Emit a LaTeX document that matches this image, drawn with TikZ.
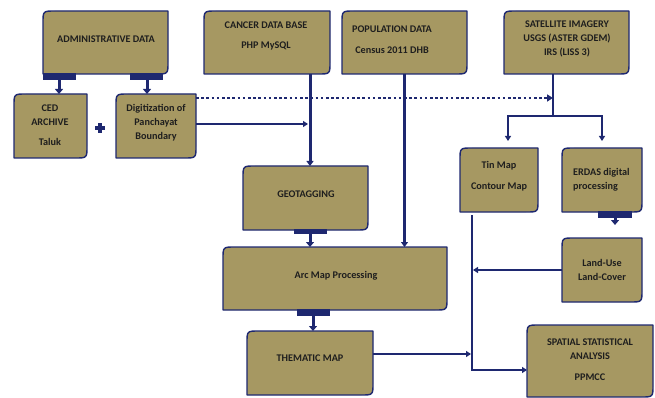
\documentclass[tikz,border=0pt]{standalone}
\usepackage{fontspec}
\setmainfont{Carlito}
\usetikzlibrary{arrows.meta,calc}
\definecolor{olive}{RGB}{166,152,98}
\definecolor{navy}{RGB}{30,40,112}
\definecolor{ink}{RGB}{30,30,30}
\def\rr{12pt}
\newcommand\oboxpath[1]{\filldraw[boxline] ([yshift=-\rr]#1.north west) .. controls (#1.north west) .. ([xshift=\rr]#1.north west) -- (#1.north east) -- ([yshift=\rr]#1.south east) .. controls (#1.south east) .. ([xshift=-\rr]#1.south east) -- (#1.south west) -- cycle;}
\tikzset{
  bx/.style 2 args={minimum width=#1pt, minimum height=#2pt, inner sep=0pt, outer sep=0pt, draw=none},
  boxline/.style={fill=olive, draw=navy, line width=1.4pt, line join=round},
  txt/.style={font=\bfseries\fontsize{10.2}{14}\selectfont, text=ink, align=center, inner sep=0pt},
  conn/.style={draw=navy, line width=2pt, -{Triangle[width=6pt,length=5pt]}},
  thickconn/.style={draw=navy, line width=3pt, -{Triangle[width=7pt,length=5pt]}},
  plainline/.style={draw=navy, line width=2pt},
  tab/.style={fill=navy},
  tabarrow/.style={draw=navy, line width=3pt, -{Triangle[width=8pt,length=5pt]}},
}
\begin{document}
\begin{tikzpicture}[x=1pt,y=-1pt]
\useasboundingbox (0,0) rectangle (655,398);
% boxes
\node[bx={125}{63}] (adm) at (105.5,42.5) {};
\node[bx={73}{64}] (ced) at (50.5,126) {};
\node[bx={80}{64}] (dig) at (156,126) {};
\node[bx={126}{63}] (cdb) at (267,42.5) {};
\node[bx={125}{63}] (pop) at (404.5,42.5) {};
\node[bx={125}{63}] (sat) at (566.5,42.5) {};
\node[bx={78}{64}] (tin) at (499,180) {};
\node[bx={80}{64}] (erd) at (602,180) {};
\node[bx={125}{64}] (geo) at (305.5,198) {};
\node[bx={224}{63}] (arc) at (335,278.5) {};
\node[bx={126}{64}] (the) at (310,363) {};
\node[bx={80}{64}] (lu) at (602,270) {};
\node[bx={126}{72}] (spa) at (590,361) {};
\foreach \b in {adm,ced,dig,cdb,pop,sat,tin,erd,geo,arc,the,lu,spa} {\oboxpath{\b}}
% texts
\node[txt] at (106,39) {ADMINISTRATIVE DATA};
\node[txt] at (50,108) {CED};
\node[txt] at (50,122) {ARCHIVE};
\node[txt] at (50,142) {Taluk};
\node[txt] at (156,122.5) {Digitization of\\Panchayat\\Boundary};
\node[txt] at (266,25) {CANCER DATA BASE};
\node[txt] at (266,46) {PHP MySQL};
\node[txt] at (392,29) {POPULATION DATA};
\node[txt] at (392,50) {Census 2011 DHB};
\node[txt] at (567,38.5) {SATELLITE IMAGERY\\USGS (ASTER GDEM)\\IRS (LISS 3)};
\node[txt] at (499,166) {Tin Map};
\node[txt] at (499,187) {Contour Map};
\node[txt, align=left, anchor=west] at (573,180) {ERDAS digital\\processing};
\node[txt] at (306,194) {GEOTAGGING};
\node[txt] at (336,276) {Arc Map Processing};
\node[txt] at (310,358) {THEMATIC MAP};
\node[txt] at (602,270) {Land-Use\\Land-Cover};
\node[txt] at (590,349.5) {SPATIAL STATISTICAL\\ANALYSIS};
\node[txt] at (590,377) {PPMCC};
% plus sign
\coordinate (plus) at (100,128);
\draw[navy, line width=3.5pt] ([xshift=-5pt]plus) -- ([xshift=5pt]plus);
\draw[navy, line width=3.5pt] ([yshift=-5pt]plus) -- ([yshift=5pt]plus);
% tabs under boxes
\fill[tab] (43,73) rectangle (76,80);
\fill[tab] (130,73) rectangle (163,80);
\fill[tab] (294,229) rectangle (327,234);
\fill[tab] (297,309) rectangle (330,316);
\fill[tab] (598,211) rectangle (632,218);
\draw[tabarrow] (59,80) -- (ced.north -| 59,0);
\draw[tabarrow] (147,80) -- (dig.north -| 147,0);
\draw[tabarrow] (310,234) -- (arc.north -| 310,0);
\draw[tabarrow] (313,316) -- (the.north -| 313,0);
\coordinate (erdtip) at (615,225);
\draw[tabarrow] (615,218) -- (erdtip);
% connectors
\coordinate (cdbx) at (310,0);
\draw[thickconn] (cdb.south -| cdbx) -- (geo.north -| cdbx);
\draw[thickconn] (pop.south) -- (pop.south |- arc.north);
\coordinate (digy) at (0,124);
\draw[conn] (dig.east |- digy) -- (308,124);
\coordinate (doty) at (0,98);
\coordinate (dotend) at (553,98);
\draw[draw=navy, line width=2.6pt, dash pattern=on 2.6pt off 2.6pt, -{Triangle[width=7pt,length=6pt]}] (dig.east |- doty) -- (dotend);
% satellite branch
\coordinate (satfork) at (553,116);
\draw[plainline] (sat.south -| satfork) -- (satfork);
\draw[conn] (satfork) -| ([yshift=7pt]tin.north -| 508,0);
\draw[conn] (satfork) -| ([yshift=7pt]erd.north -| 602,0);
% right collector line
\coordinate (colltop) at (472,215);
\coordinate (collbot) at (472,370);
\draw[conn] (colltop) -- (collbot) -- (spa.west |- collbot);
\draw[conn] (lu.west) -- (473,270);
\coordinate (they) at (0,354);
\draw[conn] (the.east |- they) -- (471,354);
\end{tikzpicture}
\end{document}
